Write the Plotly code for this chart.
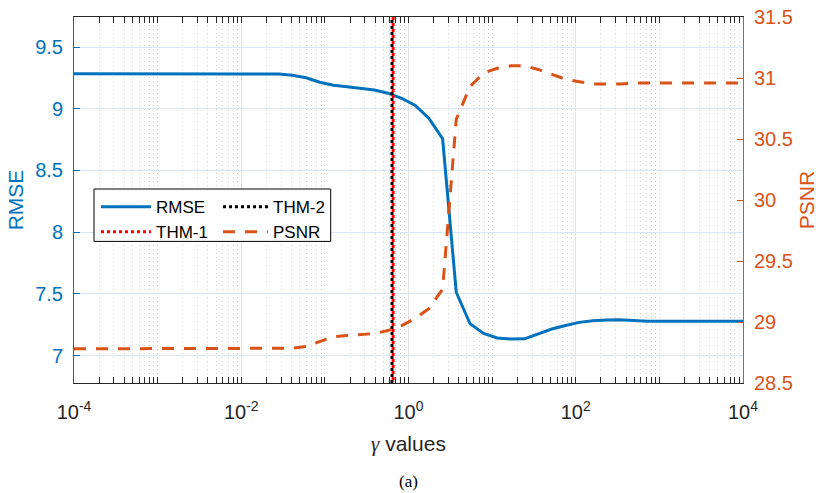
import numpy as np
import plotly.graph_objects as go

# gamma sweep (log10 of gamma), 50 log-spaced samples
log10_gamma = [-4.0, -3.837, -3.673, -3.510, -3.347, -3.184, -3.020, -2.857, -2.694, -2.531,
               -2.367, -2.204, -2.041, -1.878, -1.714, -1.551, -1.388, -1.224, -1.061, -0.898,
               -0.735, -0.571, -0.408, -0.245, -0.082, 0.082, 0.245, 0.408, 0.571, 0.735,
               0.898, 1.061, 1.224, 1.388, 1.551, 1.714, 1.878, 2.041, 2.204, 2.367,
               2.531, 2.694, 2.857, 3.020, 3.184, 3.347, 3.510, 3.673, 3.837, 4.0]

rmse = [9.283] * 15 + [9.281, 9.272, 9.251, 9.215, 9.191, 9.178, 9.166, 9.151, 9.126, 9.085,
                       9.027, 8.922, 8.757, 7.514, 7.260, 7.180, 7.144, 7.135, 7.137, 7.178,
                       7.216, 7.245, 7.270, 7.283, 7.290, 7.291, 7.282] + [7.279] * 8

psnr = [28.78] * 16 + [28.785, 28.80, 28.84, 28.88, 28.89, 28.897, 28.905, 28.93, 28.97,
                       29.03, 29.11, 29.27, 30.66, 30.93, 31.04, 31.08, 31.10, 31.10, 31.07,
                       31.03, 30.99, 30.97, 30.95, 30.95, 30.95] + [30.96] * 9

thm1 = 0.655   # threshold from method 1
thm2 = 0.635   # threshold from method 2

rmse_range = [6.779, 9.743]
psnr_range = [28.5, 31.5]
rmse_ticks = [7, 7.5, 8, 8.5, 9, 9.5]
psnr_ticks = [28.5, 29, 29.5, 30, 30.5, 31, 31.5]
x_ticks = [1e-4, 1e-2, 1e0, 1e2, 1e4]
x_ticktext = ["10<sup>-4</sup>", "10<sup>-2</sup>", "10<sup>0</sup>", "10<sup>2</sup>", "10<sup>4</sup>"]

BLUE = "#0072BD"
ORANGE = "#D95319"
DARK = "#262626"
FONT = "Liberation Sans, Arial, sans-serif"
TICK_SIZE = 20
TITLE_SIZE = 21

gamma = [10 ** e for e in log10_gamma]
minor_vals = [m * 10.0 ** d for d in range(-4, 4) for m in range(2, 11)
              if not (m == 10 and (d + 1) % 2 == 0)]

fig = go.Figure()

fig.add_trace(go.Scatter(x=gamma, y=rmse, name="RMSE", mode="lines",
                         line=dict(color=BLUE, width=3), legend="legend"))
# red threshold line starts one dot lower so the two dotted lines interleave
fig.add_trace(go.Scatter(x=[thm1, thm1], y=[rmse_range[0] - 0.0243, rmse_range[1]],
                         name="THM-1", mode="lines",
                         line=dict(color="#FF0000", width=3, dash="dot"), legend="legend"))
fig.add_trace(go.Scatter(x=[thm2, thm2], y=rmse_range, name="THM-2", mode="lines",
                         line=dict(color="#000000", width=3, dash="dot"), legend="legend2"))
fig.add_trace(go.Scatter(x=gamma, y=psnr, name="PSNR", mode="lines", yaxis="y2",
                         line=dict(color=ORANGE, width=3, dash="12px,10px"), legend="legend2"))

fig.update_layout(
    width=818, height=493,
    margin=dict(l=74, r=75, t=17, b=110),
    paper_bgcolor="white", plot_bgcolor="white",
    font=dict(family=FONT, size=TICK_SIZE, color=DARK),
    xaxis=dict(
        type="log", range=[-4, 4], automargin=False,
        tickmode="array", tickvals=x_ticks, ticktext=x_ticktext,
        ticks="inside", ticklen=6, tickcolor=DARK, tickwidth=1,
        ticklabelstandoff=11,
        showline=True, linecolor=DARK, linewidth=1, mirror="allticks",
        showgrid=True, gridcolor="#e3e3e3", gridwidth=1,
        tickfont=dict(size=TICK_SIZE, color=DARK),
        title=dict(text='<span style="font-family:Liberation Serif"><i>γ</i></span> values',
                   font=dict(size=TITLE_SIZE, color=DARK), standoff=14),
        minor=dict(tickmode="array", tickvals=minor_vals, ticks="inside", ticklen=3,
                   tickcolor=DARK, showgrid=True, gridcolor="#d2d2d2", griddash="1px,3px",
                   gridwidth=1),
        zeroline=False,
    ),
    yaxis=dict(
        range=rmse_range, tickmode="array", tickvals=rmse_ticks, automargin=False,
        ticktext=[f"{v:g}" for v in rmse_ticks],
        ticks="inside", ticklen=6, tickcolor=BLUE, tickwidth=1,
        ticklabelstandoff=6,
        showline=True, linecolor=BLUE, linewidth=1,
        showgrid=True, gridcolor="#dbe8f4", gridwidth=1,
        tickfont=dict(size=TICK_SIZE, color=BLUE),
        title=dict(text="RMSE", font=dict(size=TITLE_SIZE, color=BLUE), standoff=5),
        zeroline=False,
    ),
    yaxis2=dict(
        range=psnr_range, tickmode="array", tickvals=psnr_ticks, automargin=False,
        ticktext=[f"{v:g}" for v in psnr_ticks],
        overlaying="y", side="right",
        ticks="inside", ticklen=6, tickcolor=ORANGE, tickwidth=1,
        ticklabelstandoff=6,
        showline=True, linecolor=ORANGE, linewidth=1,
        showgrid=False, tickfont=dict(size=TICK_SIZE, color=ORANGE),
        title=dict(text="PSNR", font=dict(size=TITLE_SIZE, color=ORANGE), standoff=16),
        zeroline=False,
    ),
    legend=dict(x=(96 - 74) / 669, y=(383.3 - 189.5) / 366, xanchor="left", yanchor="top",
                bgcolor="rgba(0,0,0,0)", borderwidth=0, itemwidth=50,
                font=dict(size=17, color="#000000"), tracegroupgap=0),
    legend2=dict(x=(218 - 74) / 669, y=(383.3 - 189.5) / 366, xanchor="left", yanchor="top",
                 bgcolor="rgba(0,0,0,0)", borderwidth=0, itemwidth=45,
                 font=dict(size=17, color="#000000"), tracegroupgap=0),
    showlegend=True,
    shapes=[dict(type="rect", xref="paper", yref="paper",
                 x0=(94 - 74) / 669, x1=(330.7 - 74) / 669,
                 y0=(383.3 - 241.7) / 366, y1=(383.3 - 189.3) / 366,
                 line=dict(color="#000000", width=1), fillcolor="white", layer="above")],
    annotations=[dict(text="(a)", xref="paper", yref="paper", x=0.5, y=(383.3 - 482) / 366,
                      showarrow=False, yanchor="middle",
                      font=dict(family="Liberation Serif, Times New Roman, serif", size=17,
                                color="#000000"))],
)

fig.write_html("out.html")
